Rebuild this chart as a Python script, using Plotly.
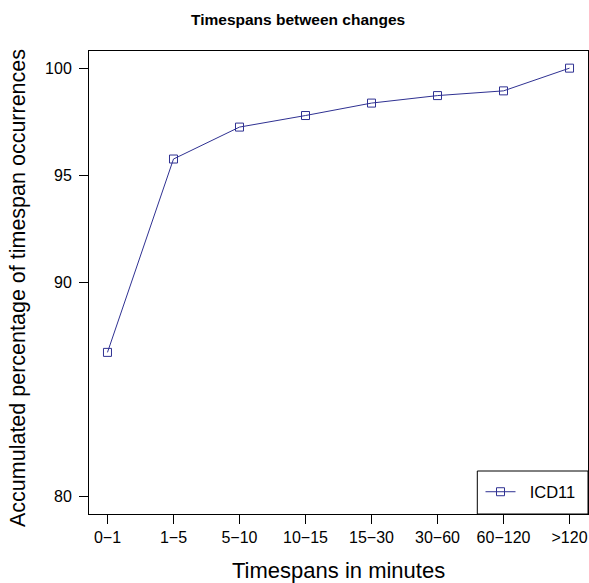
import plotly.graph_objects as go

categories = ["0\u22121", "1\u22125", "5\u221210", "10\u221215", "15\u221230", "30\u221260", "60\u2212120", ">120"]
icd11_values = [86.74, 95.76, 97.25, 97.79, 98.37, 98.72, 98.94, 100.0]
y_ticks = [80, 90, 95, 100]

W, H = 589, 583
ML, MR, MT, MB = 89, 1, 51, 69
FONT = "Liberation Sans, Arial, Helvetica, sans-serif"
COLOR = "#2f3192"

fig = go.Figure()
fig.add_trace(go.Scatter(
    x=list(range(len(categories))), y=icd11_values, name="\u00a0\u00a0ICD11",
    mode="lines+markers",
    line=dict(color=COLOR, width=1),
    marker=dict(symbol="square-open", size=8, color=COLOR, line=dict(width=1, color=COLOR)),
))

pw = W - ML - MR
ph = H - MT - MB

fig.update_layout(
    width=W, height=H,
    margin=dict(l=ML, r=MR, t=MT, b=MB),
    plot_bgcolor="white", paper_bgcolor="white",
    font=dict(family=FONT, size=16, color="black"),
    showlegend=True,
    legend=dict(x=(480.5 - ML) / pw, y=(MT + ph - 492) / ph, xanchor="left", yanchor="middle",
                bgcolor="rgba(0,0,0,0)", borderwidth=0,
                font=dict(size=16.5)),
    xaxis=dict(
        range=[-0.28, 7.28], tickmode="array",
        tickvals=list(range(len(categories))), ticktext=categories,
        showgrid=False, zeroline=False, showline=True, linecolor="black",
        linewidth=1, mirror=True, ticks="outside", ticklen=9, tickcolor="black",
        tickfont=dict(size=16),
    ),
    yaxis=dict(
        range=[79.2, 100.8], tickmode="array", tickvals=y_ticks,
        ticktext=[str(v) for v in y_ticks],
        showgrid=False, zeroline=False, showline=True, linecolor="black",
        linewidth=1, mirror=True, ticks="outside", ticklen=9, tickcolor="black",
        tickfont=dict(size=16), ticklabelstandoff=4,
    ),
    annotations=[
        dict(text="<b>Timespans between changes</b>", xref="paper", yref="paper",
             x=(298 - ML) / pw, y=1 + (MT - 19) / ph, xanchor="center", yanchor="middle",
             showarrow=False, font=dict(size=15.5)),
        dict(text="Timespans in minutes", xref="paper", yref="paper",
             x=0.5, y=-(570 - MT - ph) / ph, xanchor="center", yanchor="middle",
             showarrow=False, font=dict(size=22)),
        dict(text="Accumulated percentage of timespan occurrences", xref="paper", yref="paper",
             x=(18 - ML) / pw, y=(MT + ph - 288) / ph, xanchor="center", yanchor="middle", textangle=-90,
             showarrow=False, font=dict(size=21.5)),
    ],
    shapes=[
        dict(type="rect", xref="paper", yref="paper",
             x0=(477.3 - ML) / pw, x1=1, y0=0, y1=(MT + ph - 471) / ph,
             line=dict(color="black", width=1), fillcolor="rgba(0,0,0,0)"),
    ],
)

fig.write_html(
    "out.html",
    config={"displayModeBar": False},
    post_script="document.body.style.margin='0';document.body.style.overflow='hidden';",
)
